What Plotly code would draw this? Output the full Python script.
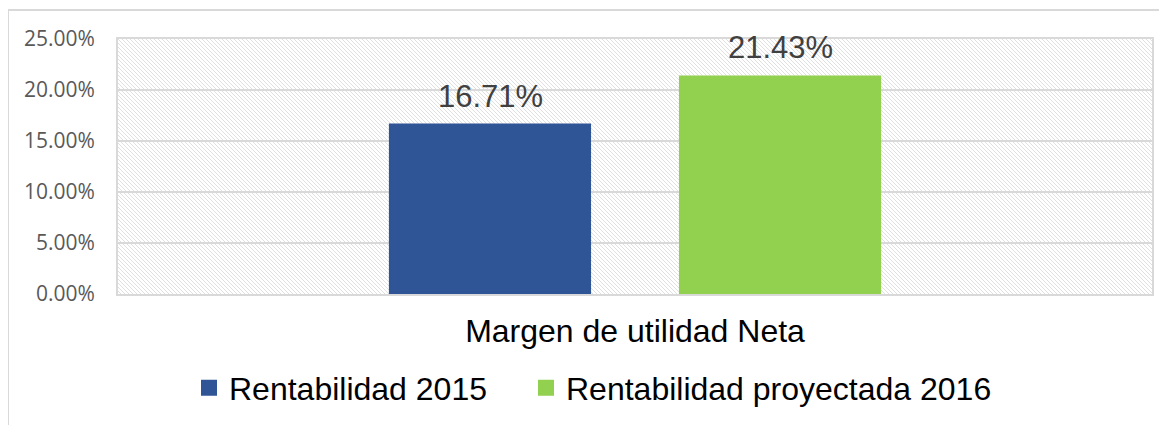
import base64
import plotly.graph_objects as go

categories = ["Margen de utilidad Neta"]
series_names = ["Rentabilidad 2015", "Rentabilidad proyectada 2016"]
series_values = [[16.71], [21.43]]
series_colors = ["#2F5597", "#92D050"]
tick_vals = [0, 5, 10, 15, 20, 25]
tick_text = ["0.00%", "5.00%", "10.00%", "15.00%", "20.00%", "25.00%"]

W, H = 1167, 425
OFF = 8  # page body margin
pw, ph = 1034, 255
L, T = 118 - OFF, 39 - OFF
R, B = W - L - pw, H - T - ph

fig = go.Figure()
bar_shift = [-145, 145]
legend_ids = ["legend", "legend2"]
for name, vals, col, sh, lg in zip(series_names, series_values, series_colors, bar_shift, legend_ids):
    fig.add_trace(go.Bar(
        x=categories, y=vals, name=name, marker=dict(color=col, line=dict(width=0)),
        showlegend=False,
    ))
    for c, v in zip(categories, vals):
        fig.add_annotation(x=c, y=v, xref="x", yref="y", text=f"{v:.2f}%",
                           showarrow=False, yanchor="bottom", xshift=sh, yshift=8,
                           font=dict(family="Liberation Sans, Arial", size=31, color="#404040"))
    fig.add_trace(go.Scatter(
        x=[None], y=[None], mode="markers", name=name, legend=lg,
        marker=dict(symbol="square", size=17, color=col), showlegend=True,
    ))

svg = (f'<svg xmlns="http://www.w3.org/2000/svg" width="{pw}" height="{ph}" '
       f'viewBox="0 0 {pw} {ph}" preserveAspectRatio="none">'
       '<defs><pattern id="p" width="4" height="4" patternUnits="userSpaceOnUse">'
       '<path d="M-1,-1 L5,5 M-1,3 L1,5 M3,-1 L5,1" stroke="#e0e0e0" stroke-width="1"/>'
       '</pattern></defs>'
       f'<rect width="{pw}" height="{ph}" fill="url(#p)"/></svg>')
src = "data:image/svg+xml;base64," + base64.b64encode(svg.encode()).decode()

legend_style = dict(orientation="h", xanchor="left", xref="container",
                    y=(H - 388 + OFF) / H, yanchor="middle", yref="container",
                    font=dict(family="Liberation Sans, Arial", size=32, color="#000000"),
                    itemwidth=30, bgcolor="rgba(0,0,0,0)")

fig.update_layout(
    width=W, height=H,
    margin=dict(l=L, r=R, t=T, b=B, autoexpand=False),
    paper_bgcolor="white", plot_bgcolor="rgba(0,0,0,0)",
    barmode="group", bargap=0.439, bargroupgap=0.303,
    images=[dict(source=src, xref="paper", yref="paper", x=0, y=1, sizex=1, sizey=1,
                 sizing="stretch", layer="below", xanchor="left", yanchor="top")],
    showlegend=True,
    legend=dict(x=(189 - OFF) / W, **legend_style),
    legend2=dict(x=(526 - OFF) / W, **legend_style),
    xaxis=dict(showgrid=False, showline=True, linecolor="#d9d9d9", linewidth=2, mirror=True,
               tickfont=dict(family="Liberation Sans, Arial", size=32, color="#000000"),
               ticks="", ticklabelstandoff=8, automargin=False),
    yaxis=dict(range=[0, 25], tickvals=tick_vals, ticktext=tick_text,
               showgrid=True, gridcolor="#d9d9d9", gridwidth=2,
               showline=True, linecolor="#d9d9d9", linewidth=2, mirror=True,
               zeroline=False, ticks="", ticklabelstandoff=17, automargin=False,
               tickfont=dict(family="Open Sans, Calibri", size=21, color="#595959")),
    shapes=[dict(type="rect", xref="paper", yref="paper",
                 x0=(7 - 118 + 1) / pw, x1=1.2, y0=-1.0, y1=(294 - 10) / ph,
                 line=dict(color="#d9d9d9", width=2), fillcolor="rgba(0,0,0,0)", layer="below")],
)

fig.write_html("out.html")
